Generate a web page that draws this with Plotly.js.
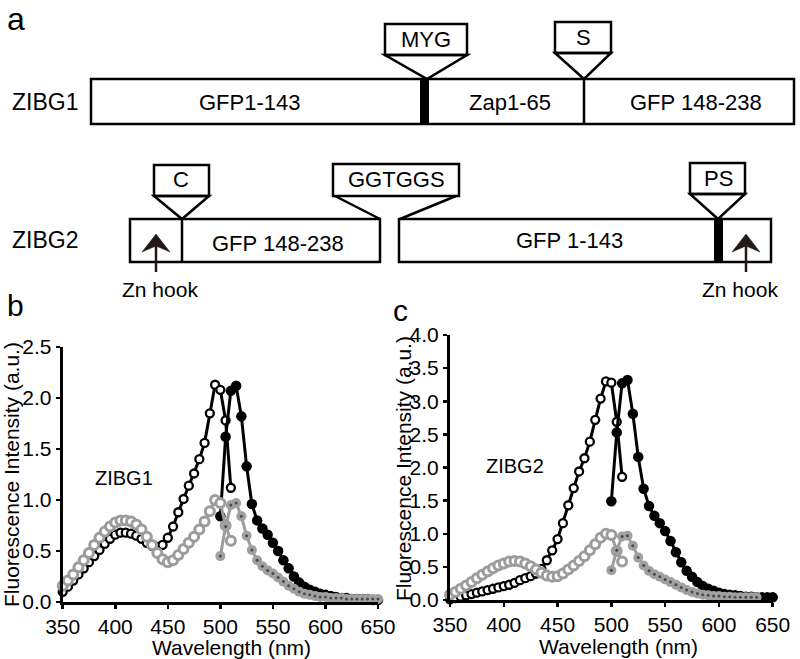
<!DOCTYPE html>
<html><head><meta charset="utf-8">
<script src="https://cdn.plot.ly/plotly-3.0.1.min.js"></script>
<style>html,body{margin:0;padding:0;background:#fff}#chart{width:800px;height:659px}</style>
</head><body><div id="chart"></div>
<script>
// ---------- data ----------
const wlEx = [350,355,360,365,370,375,380,385,390,395,400,405,410,415,420,425,430,435,440,445,450,455,460,465,470,475,480,485,490,495,500,505,510];
const wlEm = [500,505,510,515,520,525,530,535,540,545,550,555,560,565,570,575,580,585,590,595,600,605,610,615,620,625,630,635,640,645,650];
const wlEmGrayC = [500,505,510,515,520,525,530,535,540,545,550,555,560,565,570,575,580,585,590,595,600,605,610,615,620,625,630,635];

// ZIBG1 (panel b)
const zibg1ExBlack = [0.10,0.15,0.21,0.27,0.33,0.39,0.45,0.51,0.57,0.62,0.66,0.68,0.68,0.67,0.65,0.62,0.58,0.55,0.54,0.56,0.63,0.74,0.88,1.01,1.14,1.26,1.40,1.56,1.85,2.13,2.08,1.78,1.12];
const zibg1ExGray  = [0.16,0.21,0.27,0.34,0.41,0.48,0.56,0.63,0.69,0.74,0.78,0.80,0.80,0.79,0.76,0.71,0.64,0.56,0.48,0.42,0.39,0.41,0.46,0.52,0.58,0.64,0.71,0.79,0.89,1.00,0.97,0.75,0.60];
const zibg1EmBlack = [0.84,1.62,2.07,2.12,1.82,1.33,0.96,0.80,0.72,0.66,0.58,0.50,0.41,0.33,0.25,0.19,0.15,0.12,0.10,0.08,0.07,0.06,0.05,0.04,0.04,0.03,0.03,0.03,0.03,0.02,0.02];
const zibg1EmGray  = [0.45,0.74,0.95,0.97,0.84,0.65,0.51,0.41,0.35,0.31,0.28,0.24,0.20,0.16,0.13,0.10,0.08,0.07,0.06,0.05,0.05,0.04,0.04,0.04,0.03,0.03,0.03,0.03,0.03,0.03,0.03];

// ZIBG2 (panel c)
const zibg2ExBlack = [0.01,0.03,0.05,0.07,0.09,0.11,0.13,0.15,0.17,0.19,0.21,0.23,0.26,0.30,0.33,0.36,0.40,0.47,0.60,0.75,0.92,1.16,1.43,1.69,1.94,2.14,2.39,2.72,3.04,3.30,3.28,2.69,1.86];
const zibg2ExGray  = [0.08,0.12,0.17,0.22,0.27,0.33,0.38,0.43,0.48,0.52,0.55,0.58,0.59,0.58,0.55,0.51,0.46,0.41,0.37,0.35,0.36,0.40,0.46,0.52,0.59,0.66,0.75,0.84,0.94,1.00,0.98,0.74,0.58];
const zibg2EmBlack = [1.49,2.53,3.27,3.32,2.81,2.16,1.68,1.42,1.27,1.16,1.04,0.89,0.72,0.57,0.44,0.35,0.27,0.21,0.17,0.14,0.11,0.09,0.08,0.07,0.06,0.05,0.05,0.04,0.04,0.04,0.04];
const zibg2EmGray  = [0.45,0.75,0.96,0.97,0.82,0.64,0.52,0.44,0.39,0.35,0.31,0.27,0.23,0.19,0.15,0.12,0.10,0.08,0.07,0.06,0.06,0.05,0.05,0.04,0.04,0.04,0.04,0.04];

const xTicks = [350,400,450,500,550,600,650];
const xTitle = 'Wavelength (nm)';
const yTitle = 'Fluorescence Intensity (a.u.)';

// ---------- helpers ----------
const W = 800, H = 659;
const X = p => p / W;
const Y = p => 1 - p / H;
const FONT = 'Liberation Sans, Arial, Helvetica, sans-serif';
const TICKFONT = 'Liberation Sans Narrow, Arial Narrow, Liberation Sans, Arial, sans-serif';
const BLACK = '#000000', GRAY = '#9c9c9c', ARROW = '#231815';

function traces(xa, ya, exX, exB, exG, emX, emB, emGX, emG) {
  return [
    {x: exX, y: exB, xaxis: xa, yaxis: ya, mode: 'lines+markers', cliponaxis: false,
     line: {color: BLACK, width: 3}, marker: {symbol: 'circle', size: 8, color: '#fff', line: {color: BLACK, width: 2.3}}},
    {x: emX, y: emB, xaxis: xa, yaxis: ya, mode: 'lines+markers', cliponaxis: false,
     line: {color: BLACK, width: 3}, marker: {symbol: 'circle', size: 10.5, color: BLACK}},
    {x: exX, y: exG, xaxis: xa, yaxis: ya, mode: 'lines+markers', cliponaxis: false,
     line: {color: GRAY, width: 3}, marker: {symbol: 'circle', size: 9, color: '#fff', line: {color: GRAY, width: 3}}},
    {x: emGX, y: emG, xaxis: xa, yaxis: ya, mode: 'lines+markers', cliponaxis: false,
     line: {color: GRAY, width: 3}, marker: {symbol: 'circle', size: 10, color: '#a0a0a0'}},
    {x: emGX, y: emG, xaxis: xa, yaxis: ya, mode: 'markers', cliponaxis: false,
     marker: {symbol: 'circle', size: 3, color: '#4a4a4a'}}
  ];
}

const data = [].concat(
  traces('x', 'y', wlEx, zibg1ExBlack, zibg1ExGray, wlEm, zibg1EmBlack, wlEm, zibg1EmGray),
  traces('x2', 'y2', wlEx, zibg2ExBlack, zibg2ExGray, wlEm, zibg2EmBlack, wlEmGrayC, zibg2EmGray)
);

function xAxis(domain, anchor) {
  return {domain: domain, anchor: anchor, range: [350, 650], tickvals: xTicks, ticks: 'outside',
    ticklen: 4, tickwidth: 2.5, tickcolor: BLACK, showline: true, linewidth: 3, linecolor: BLACK,
    showgrid: false, zeroline: false, automargin: false, fixedrange: true,
    tickfont: {family: TICKFONT, size: 21, color: BLACK}};
}
function yAxis(domain, anchor, top) {
  return {domain: domain, anchor: anchor, range: [0, top], dtick: 0.5, tick0: 0, tickformat: '.1f',
    ticks: 'outside', ticklen: 4, tickwidth: 2.5, tickcolor: BLACK, showline: true, linewidth: 3,
    linecolor: BLACK, showgrid: false, zeroline: false, automargin: false, fixedrange: true,
    tickfont: {family: TICKFONT, size: 21, color: BLACK}};
}

// ---------- diagram (panel a) ----------
const LW = 2.5;
const shapes = [];
function rect(x0, y0, x1, y1, fill) {
  shapes.push({type: 'rect', xref: 'paper', yref: 'paper', x0: X(x0), y0: Y(y1), x1: X(x1), y1: Y(y0),
    line: {color: BLACK, width: fill ? 0 : LW}, fillcolor: fill || 'rgba(0,0,0,0)'});
}
function seg(x0, y0, x1, y1, w, c) {
  shapes.push({type: 'line', xref: 'paper', yref: 'paper', x0: X(x0), y0: Y(y0), x1: X(x1), y1: Y(y1),
    line: {color: c || BLACK, width: w || LW}});
}
function path(pts, fill, w) {
  const d = pts.map((p, i) => (i ? 'L' : 'M') + X(p[0]).toFixed(5) + ',' + Y(p[1]).toFixed(5)).join(' ') + ' Z';
  shapes.push({type: 'path', xref: 'paper', yref: 'paper', path: d,
    line: {color: fill ? fill : BLACK, width: w === undefined ? LW : w}, fillcolor: fill || 'rgba(0,0,0,0)'});
}
function callout(x0, x1, yTop, yBot, apexX, apexY) {
  rect(x0, yTop, x1, yBot);
  path([[x0, yBot], [x1, yBot], [apexX, apexY]]);
}
function arrow(x) {
  seg(x, 246, x, 272, 2.5, ARROW);
  path([[x, 234], [x - 14, 252], [x, 246], [x + 14, 252]], ARROW, 0.5);
}

// ZIBG1 row
rect(91, 79, 794, 124);
rect(420, 79, 429, 124, BLACK);
seg(584, 79, 584, 124);
callout(385, 467, 24, 55, 427, 79);
callout(555, 611, 22, 53, 584, 79);

// ZIBG2 row
rect(130, 219, 380, 262);
seg(182, 219, 182, 262);
rect(399, 219, 771, 262);
rect(714, 219, 723, 262, BLACK);
callout(154, 209, 165, 196, 182, 219);
callout(690, 745, 163, 194, 718, 219);
rect(333, 164, 459, 196);
seg(335, 196, 380, 219);
seg(456, 196, 400, 219);
arrow(156);
arrow(746);

const annotations = [];
function txt(t, x, y, size, angle) {
  annotations.push({text: t, xref: 'paper', yref: 'paper', x: X(x), y: Y(y), xanchor: 'center',
    yanchor: 'middle', showarrow: false, textangle: angle || 0, font: {family: FONT, size: size, color: BLACK}});
}
txt('a', 16, 19, 32);
txt('ZIBG1', 45, 102, 23);
txt('GFP1-143', 250, 102, 22);
txt('Zap1-65', 510, 102, 22);
txt('GFP 148-238', 696, 102, 22);
txt('MYG', 426, 39, 22);
txt('S', 583, 37, 22);
txt('ZIBG2', 45, 240, 23);
txt('C', 181, 180, 22);
txt('GGTGGS', 396, 180, 22);
txt('PS', 718, 179, 22);
txt('GFP 148-238', 278, 243, 22);
txt('GFP 1-143', 569, 240, 22);
txt('Zn hook', 160, 290, 21);
txt('Zn hook', 740, 289, 21);
txt('b', 15, 306, 30);
txt('c', 400, 311, 30);

// axis titles
txt(xTitle, 232, 647, 21);
txt(xTitle, 618, 646, 21);
txt(yTitle, 11, 475, 21, -90);
txt(yTitle, 403, 469, 21, -90);

annotations.push({text: 'ZIBG1', xref: 'x', yref: 'y', x: 408, y: 1.22, showarrow: false,
  font: {family: FONT, size: 20, color: BLACK}});
annotations.push({text: 'ZIBG2', xref: 'x2', yref: 'y2', x: 410, y: 2.03, showarrow: false,
  font: {family: FONT, size: 20, color: BLACK}});

const layout = {
  width: W, height: H, margin: {l: 0, r: 0, t: 0, b: 0, pad: 0},
  paper_bgcolor: '#fff', plot_bgcolor: '#fff', showlegend: false,
  font: {family: FONT, color: BLACK},
  xaxis: xAxis([62.7 / W, 378 / W], 'y'),
  yaxis: yAxis([Y(602), Y(347)], 'x', 2.5),
  xaxis2: xAxis([450 / W, 772.7 / W], 'y2'),
  yaxis2: yAxis([Y(600), Y(335)], 'x2', 4),
  shapes: shapes,
  annotations: annotations
};

Plotly.newPlot('chart', data, layout, {displayModeBar: false, staticPlot: true});
</script></body></html>
